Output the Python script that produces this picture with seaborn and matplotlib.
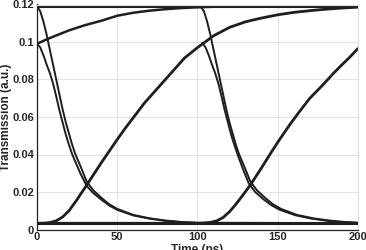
import matplotlib
matplotlib.use("Agg")
import matplotlib.pyplot as plt
import seaborn as sns
import pandas as pd

# ---- data (time in ps, transmission in a.u.) ----
t_flat = [0, 200]
top_flat = [0.1190, 0.1190]
bottom_flat = [0.0033, 0.0033]

# slow recovery starting at t=0
tA = [0, 2, 5, 10, 15, 20, 30, 40, 50, 60, 70, 80, 90, 100, 110, 120]
A = [0.0990, 0.0998, 0.1010, 0.1028, 0.1045, 0.1062, 0.1090, 0.1113, 0.1140,
     0.1156, 0.1167, 0.1175, 0.1181, 0.1185, 0.1188, 0.1190]

# first rising pulse edge (continues into slow recovery after 100 ps)
tC = [0, 5, 8, 12, 16, 20, 25, 31, 40, 50, 55, 67, 80, 92, 100, 104, 110,
      120, 130, 140, 150, 160, 170, 180, 190, 200]
C = [0.0033, 0.0034, 0.0037, 0.0046, 0.0067, 0.0100, 0.0160, 0.0237, 0.0355,
     0.0480, 0.0540, 0.0675, 0.0800, 0.0915, 0.0970, 0.0995, 0.1033, 0.1078,
     0.1108, 0.1128, 0.1145, 0.1158, 0.1167, 0.1175, 0.1181, 0.1186]

# second rising pulse edge
tC2 = [0, 100, 104, 108, 112, 116, 120, 124, 128, 133, 140, 144, 150, 158,
       165, 170, 178, 185, 189, 195, 200]
C2 = [0.0033, 0.0033, 0.0034, 0.0038, 0.0046, 0.0064, 0.0095, 0.0135, 0.0180,
      0.0238, 0.0330, 0.0385, 0.0465, 0.0565, 0.0645, 0.0700, 0.0770, 0.0835,
      0.0870, 0.0920, 0.0965]

# first falling edges (double trace)
tD = [0, 2, 4, 6, 8, 10, 12, 14, 16, 18, 20, 22, 24, 27, 31, 35, 40, 45, 50,
      60, 70, 80, 90, 100, 200]
D1 = [0.1190, 0.1165, 0.1110, 0.1040, 0.0960, 0.0880, 0.0800, 0.0720, 0.0640,
      0.0570, 0.0510, 0.0450, 0.0400, 0.0340, 0.0255, 0.0210, 0.0170, 0.0135,
      0.0110, 0.0078, 0.0060, 0.0048, 0.0040, 0.0036, 0.0034]
D2 = [0.0990, 0.0972, 0.0930, 0.0880, 0.0835, 0.0780, 0.0710, 0.0635, 0.0570,
      0.0505, 0.0450, 0.0400, 0.0360, 0.0300, 0.0232, 0.0195, 0.0160, 0.0128,
      0.0105, 0.0075, 0.0058, 0.0046, 0.0039, 0.0035, 0.0033]

# second falling edges (double trace)
tE1 = [0, 100, 102, 104, 106, 108, 110, 112, 114, 116, 118, 120, 122, 124,
       126, 129, 133, 137, 142, 147, 152, 162, 172, 182, 192, 200]
E1 = [0.1190, 0.1190, 0.1188, 0.1165, 0.1110, 0.1040, 0.0960, 0.0880, 0.0800,
      0.0720, 0.0640, 0.0570, 0.0510, 0.0450, 0.0400, 0.0340, 0.0255, 0.0210,
      0.0170, 0.0135, 0.0110, 0.0078, 0.0060, 0.0048, 0.0040, 0.0036]
tE2 = [103, 105, 107, 109, 111, 113, 115, 117, 119, 121, 123, 125, 128, 132,
       136, 141, 146, 151, 161, 171, 181, 191, 200]
E2 = [0.0995, 0.0972, 0.0930, 0.0880, 0.0835, 0.0780, 0.0710, 0.0635, 0.0570,
      0.0505, 0.0450, 0.0400, 0.0330, 0.0245, 0.0200, 0.0162, 0.0130, 0.0106,
      0.0076, 0.0058, 0.0046, 0.0039, 0.0035]

x_ticks = [0, 50, 100, 150, 200]
y_ticks = [0, 0.02, 0.04, 0.06, 0.08, 0.10, 0.12]
y_tick_labels = ["0", "0.02", "0.04", "0.06", "0.08", "0.1", "0.12"]

# ---- plot ----
sns.set_style("white")
plt.rcParams["font.family"] = ["Liberation Sans", "DejaVu Sans"]

fig = plt.figure(figsize=(3.66, 2.5), dpi=100)
ax = fig.add_axes([0.101, 0.082, 0.877, 0.900])

col = "#1e1e1e"
curves = [
    (t_flat, top_flat, 2.2),
    (t_flat, bottom_flat, 2.2),
    (tA, A, 1.8),
    (tC, C, 2.0),
    (tC2, C2, 2.0),
    (tD, D1, 1.4),
    (tD, D2, 1.4),
    (tE1, E1, 1.4),
    (tE2, E2, 1.4),
]
for xs, ys, lw in curves:
    df = pd.DataFrame({"t": xs, "v": ys})
    sns.lineplot(data=df, x="t", y="v", ax=ax, color=col, lw=lw,
                 estimator=None, sort=False)

ax.set_xlim(0, 200)
ax.set_ylim(0, 0.12)
ax.set_xticks(x_ticks)
ax.set_xticklabels([str(v) for v in x_ticks], fontsize=8, fontweight="bold")
ax.set_yticks(y_ticks)
ax.set_yticklabels(y_tick_labels, fontsize=8, fontweight="bold")
ax.grid(True, color="#e4e4e4", lw=0.8)
ax.set_axisbelow(True)
ax.tick_params(axis="both", length=0, pad=2)
ax.set_xlabel("Time (ps)", fontsize=8.5, fontweight="bold", labelpad=1)
ax.set_ylabel("Transmission (a.u.)", fontsize=8.5, fontweight="bold")
ax.yaxis.set_label_coords(-0.078, 0.5)
for side in ["left", "bottom"]:
    ax.spines[side].set_color("#222222")
    ax.spines[side].set_linewidth(0.9)
for side in ["top", "right"]:
    ax.spines[side].set_color("#dddddd")
    ax.spines[side].set_linewidth(0.8)

fig.savefig("out.png", dpi=100)
